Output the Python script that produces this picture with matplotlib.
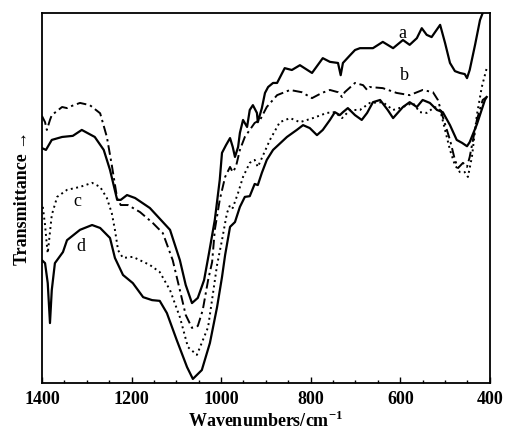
import matplotlib

matplotlib.use("Agg")
import matplotlib.pyplot as plt
from matplotlib.ticker import MultipleLocator

plt.rcParams["font.family"] = ["Liberation Serif", "DejaVu Serif"]
plt.rcParams["mathtext.fontset"] = "custom"
plt.rcParams["mathtext.rm"] = "Liberation Serif"
plt.rcParams["mathtext.bf"] = "Liberation Serif:bold"

# curve a (solid, top)
wn_a = [1400, 1391, 1378, 1355, 1331, 1311, 1282, 1262, 1248, 1232, 1224, 1210, 1192, 1159,
        1130, 1114, 1092, 1079, 1065, 1052, 1038, 1027, 1014, 1003, 998, 989, 980, 974, 969,
        962, 958, 951, 942, 936, 929, 920, 918, 909, 902, 895, 884, 875, 858, 842, 824, 797,
        773, 757, 739, 733, 728, 712, 701, 690, 674, 661, 639, 616, 594, 579, 563, 552, 541,
        530, 511, 500, 489, 478, 467, 456, 451, 445, 433, 422, 416]
t_a = [63.5, 63.0, 65.7, 66.5, 66.8, 68.4, 66.5, 63.0, 57.6, 49.5, 49.5, 50.8, 50.0, 47.3,
       43.5, 41.4, 33.2, 26.5, 21.6, 23.0, 27.8, 35.1, 44.1, 54.9, 62.2, 64.3, 66.2, 63.8, 61.1,
       63.8, 67.6, 71.1, 69.2, 73.8, 75.1, 73.0, 70.5, 74.3, 78.4, 80.0, 81.1, 81.1, 85.1, 84.6,
       85.9, 83.8, 87.8, 86.8, 86.5, 83.2, 86.5, 88.6, 90.0, 90.5, 90.5, 90.5, 92.2, 90.5, 92.7,
       91.4, 93.2, 95.9, 94.1, 93.5, 96.8, 91.9, 86.5, 84.3, 83.8, 83.5, 82.4, 84.6, 91.4, 98.1,
       100.0]

# curve b (dash-dot)
wn_b = [1400, 1393, 1389, 1382, 1378, 1355, 1344, 1333, 1315, 1293, 1270, 1255, 1244, 1232,
        1224, 1208, 1181, 1152, 1130, 1108, 1092, 1079, 1065, 1052, 1041, 1029, 1020, 1014,
        1003, 991, 980, 974, 967, 958, 947, 936, 925, 913, 898, 875, 846, 820, 797, 775, 757,
        739, 730, 724, 701, 683, 674, 668, 639, 608, 579, 550, 527, 516, 505, 489, 478, 471,
        460, 451, 445, 429, 416, 407]
t_b = [72.2, 70.5, 68.4, 71.1, 72.4, 74.6, 74.3, 74.9, 75.7, 75.1, 72.9, 66.5, 58.9, 49.9,
       48.1, 48.1, 46.2, 43.2, 40.5, 33.2, 25.1, 18.4, 14.9, 15.4, 19.7, 27.8, 32.7, 41.4,
       49.5, 55.7, 58.4, 57.0, 58.4, 63.0, 66.5, 68.4, 70.3, 71.1, 74.6, 77.8, 79.2, 78.6, 77.0,
       78.4, 79.2, 78.6, 77.3, 78.6, 81.1, 80.5, 79.2, 80.0, 79.7, 78.4, 77.8, 79.2, 78.6, 76.5,
       71.9, 65.7, 60.3, 58.1, 59.5, 58.4, 61.1, 71.1, 76.5, 77.3]

# curve c (dotted)
wn_c = [1398, 1393, 1389, 1387, 1382, 1378, 1366, 1344, 1315, 1288, 1270, 1255, 1244, 1237,
        1230, 1219, 1197, 1159, 1137, 1114, 1092, 1074, 1054, 1029, 1018, 1009, 998, 987, 980,
        974, 962, 951, 936, 925, 918, 909, 891, 869, 846, 824, 795, 764, 746, 730, 712, 690,
        668, 639, 616, 594, 572, 556, 541, 523, 511, 500, 489, 478, 467, 456, 449, 440, 429,
        418, 407]
t_c = [47.6, 42.7, 37.3, 35.1, 40.8, 45.4, 50.3, 52.2, 53.0, 54.1, 53.0, 50.0, 45.9, 41.4,
       35.9, 33.8, 34.1, 31.9, 30.0, 25.1, 17.8, 9.7, 7.6, 15.1, 24.3, 31.9, 38.6, 45.9, 48.1,
       47.3, 51.4, 55.7, 59.5, 60.3, 58.4, 60.8, 65.7, 70.5, 71.6, 70.5, 71.6, 73.0, 73.2, 71.6,
       73.8, 73.8, 75.7, 75.9, 73.8, 74.6, 75.7, 73.2, 73.0, 74.6, 73.8, 68.4, 63.0, 58.9, 57.0,
       57.0, 55.7, 61.1, 72.4, 80.0, 85.1]

# curve d (solid, bottom)
wn_d = [1400, 1393, 1387, 1382, 1378, 1371, 1353, 1344, 1315, 1288, 1270, 1248, 1237, 1219,
        1197, 1174, 1154, 1137, 1121, 1099, 1076, 1063, 1043, 1025, 1009, 998, 991, 980, 969,
        958, 947, 936, 925, 918, 909, 898, 884, 853, 831, 817, 802, 786, 773, 757, 746, 735,
        728, 717, 701, 686, 674, 661, 645, 628, 616, 594, 579, 563, 550, 534, 518, 505, 489,
        474, 462, 451, 445, 429, 411, 407]
t_d = [33.2, 32.4, 27.0, 16.2, 25.1, 32.4, 35.4, 38.6, 41.4, 42.7, 41.9, 39.2, 33.8, 29.2,
       27.0, 23.2, 22.4, 22.2, 18.9, 11.6, 4.3, 1.1, 3.5, 10.8, 20.5, 28.6, 34.6, 42.2, 43.5,
       47.6, 50.3, 50.5, 53.8, 53.5, 56.8, 60.3, 63.0, 66.5, 68.4, 69.7, 68.9, 67.0, 68.4, 71.1,
       73.2, 72.4, 73.2, 74.3, 72.4, 71.1, 73.0, 75.9, 76.5, 73.8, 71.6, 74.6, 75.9, 74.6, 76.5,
       75.7, 73.8, 73.2, 69.7, 65.7, 64.9, 64.0, 65.1, 69.9, 76.5, 77.3]

fig = plt.figure(figsize=(5.05, 4.34), dpi=100)
ax = fig.add_axes([0.083, 0.1175, 0.887, 0.8525])

ax.plot(wn_a, t_a, color="black", lw=1.6)
ax.plot(wn_b, t_b, color="black", lw=1.4, dashes=(5, 2, 1.2, 2))
ax.plot(wn_c, t_c, color="black", lw=1.4, linestyle=(0, (1, 1.8)))
ax.plot(wn_d, t_d, color="black", lw=1.6)

for txt, x, y in [("a", 596, 94.5), ("b", 591, 83.0), ("c", 1320, 49.0), ("d", 1312, 37.0)]:
    ax.text(x, y, txt, fontsize=13, ha="center", va="center")

ax.set_xlim(1400, 400)
ax.set_ylim(0, 100)
ax.xaxis.set_major_locator(MultipleLocator(200))
ax.xaxis.set_minor_locator(MultipleLocator(50))
ax.tick_params(axis="x", which="major", direction="in", length=4, width=1, pad=6,
               labelsize=13)
ax.tick_params(axis="x", which="minor", direction="in", length=2.5, width=1)
ax.set_yticks([])
for lab in ax.get_xticklabels():
    lab.set_fontweight("bold")
for sp in ax.spines.values():
    sp.set_linewidth(1.3)

ax.set_xlabel("Wavenumbers/cm$^{\\mathbf{-1}}$", fontsize=13, fontweight="bold", labelpad=2)
ax.set_ylabel("Transmittance \u2192", fontsize=13, fontweight="bold", labelpad=8)

fig.savefig("out.png", dpi=100)
